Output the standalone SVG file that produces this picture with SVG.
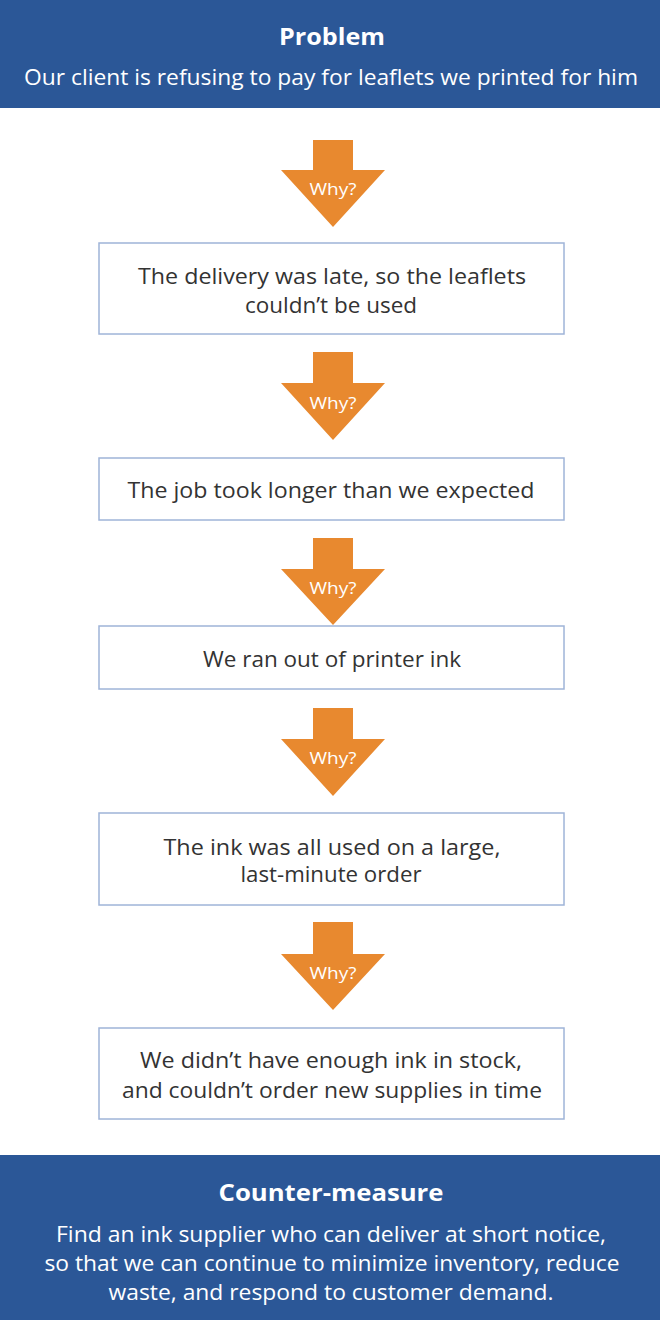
<svg xmlns="http://www.w3.org/2000/svg" width="660" height="1320" viewBox="0 0 660 1320">
<style>
.banner{fill:#2b5797}
.bt{font-family:"Open Sans","Liberation Sans",sans-serif;fill:#ffffff;text-anchor:middle}
.h{font-size:23px;font-weight:bold}
.s{font-size:21.5px}
.box{fill:#ffffff;stroke:#9fb4d8;stroke-width:1.5}
.t{font-family:"Open Sans","Liberation Sans",sans-serif;font-size:21.5px;fill:#333333;text-anchor:middle}
.arr{fill:#e8892f}
.why{font-family:"Open Sans","Liberation Sans",sans-serif;font-size:17px;fill:#ffffff;text-anchor:middle}
</style>
<rect width="660" height="1320" fill="#ffffff"/>
<g id="problem">
<rect class="banner" x="0" y="0" width="660" height="108"/>
<text class="bt h" x="332" y="45" textLength="106" lengthAdjust="spacingAndGlyphs">Problem</text>
<text class="bt s" x="331" y="85" textLength="614" lengthAdjust="spacingAndGlyphs">Our client is refusing to pay for leaflets we printed for him</text>
</g>
<g id="connectors">
<g id="why1"><polygon class="arr" points="313,140 353,140 353,170 385,170 333,227 281,170 313,170"/><text class="why" x="333" y="195" textLength="47" lengthAdjust="spacingAndGlyphs">Why?</text></g>
<g id="why2"><polygon class="arr" points="313,352 353,352 353,383 385,383 333,440 281,383 313,383"/><text class="why" x="333" y="409" textLength="47" lengthAdjust="spacingAndGlyphs">Why?</text></g>
<g id="why3"><polygon class="arr" points="313,538 353,538 353,569 385,569 333,625 281,569 313,569"/><text class="why" x="333" y="594" textLength="47" lengthAdjust="spacingAndGlyphs">Why?</text></g>
<g id="why4"><polygon class="arr" points="313,708 353,708 353,739 385,739 333,796 281,739 313,739"/><text class="why" x="333" y="764" textLength="47" lengthAdjust="spacingAndGlyphs">Why?</text></g>
<g id="why5"><polygon class="arr" points="313,922 353,922 353,954 385,954 333,1010 281,954 313,954"/><text class="why" x="333" y="979" textLength="47" lengthAdjust="spacingAndGlyphs">Why?</text></g>
</g>
<g id="box1"><rect class="box" x="99" y="243" width="465" height="91"/>
<text class="t" x="332" y="284" textLength="388" lengthAdjust="spacingAndGlyphs">The delivery was late, so the leaflets</text>
<text class="t" x="331" y="313" textLength="172" lengthAdjust="spacingAndGlyphs">couldn’t be used</text></g>
<g id="box2"><rect class="box" x="99" y="458" width="465" height="62"/>
<text class="t" x="331" y="498" textLength="407" lengthAdjust="spacingAndGlyphs">The job took longer than we expected</text></g>
<g id="box3"><rect class="box" x="99" y="626" width="465" height="63"/>
<text class="t" x="332" y="667" textLength="258" lengthAdjust="spacingAndGlyphs">We ran out of printer ink</text></g>
<g id="box4"><rect class="box" x="99" y="813" width="465" height="92"/>
<text class="t" x="332" y="855" textLength="337" lengthAdjust="spacingAndGlyphs">The ink was all used on a large,</text>
<text class="t" x="331" y="882" textLength="181" lengthAdjust="spacingAndGlyphs">last-minute order</text></g>
<g id="box5"><rect class="box" x="99" y="1028" width="465" height="91"/>
<text class="t" x="331" y="1068" textLength="382" lengthAdjust="spacingAndGlyphs">We didn’t have enough ink in stock,</text>
<text class="t" x="332" y="1098" textLength="420" lengthAdjust="spacingAndGlyphs">and couldn’t order new supplies in time</text></g>
<g id="countermeasure">
<rect class="banner" x="0" y="1155" width="660" height="165"/>
<text class="bt h" x="331" y="1201" textLength="225" lengthAdjust="spacingAndGlyphs">Counter-measure</text>
<text class="bt s" x="331" y="1242" textLength="550" lengthAdjust="spacingAndGlyphs">Find an ink supplier who can deliver at short notice,</text>
<text class="bt s" x="332" y="1271" textLength="575" lengthAdjust="spacingAndGlyphs">so that we can continue to minimize inventory, reduce</text>
<text class="bt s" x="331" y="1300" textLength="445" lengthAdjust="spacingAndGlyphs">waste, and respond to customer demand.</text>
</g>
</svg>
